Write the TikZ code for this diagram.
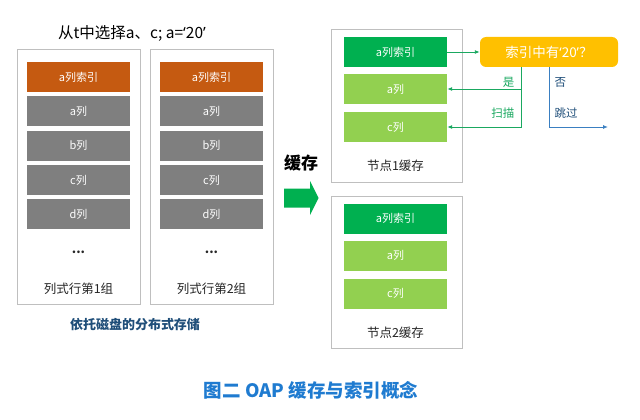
\documentclass[tikz,border=0pt]{standalone}
\usepackage{fontspec}
\setmainfont{Noto Sans CJK SC}
\newfontfamily\quotefont{Noto Sans}
\newcommand{\openq}{{\quotefont ‘}}
\newcommand{\closeq}{{\quotefont ’}}
\usepackage{xcolor}
\usepackage{tikz}
\usetikzlibrary{positioning, calc, arrows.meta}

\definecolor{panelgray}{HTML}{BFBFBF}
\definecolor{idxorange}{HTML}{C55A11}
\definecolor{colgray}{HTML}{7F7F7F}
\definecolor{idxgreen}{HTML}{00B050}
\definecolor{colgreen}{HTML}{92D050}
\definecolor{askyellow}{HTML}{FFC000}
\definecolor{yesgreen}{HTML}{1AA860}
\definecolor{noblue}{HTML}{3A7FC1}
\definecolor{diskblue}{HTML}{1F4E79}
\definecolor{capblue}{HTML}{1F7BD0}

\tikzset{
  panel/.style={draw=panelgray, line width=1pt, fill=white, inner sep=0pt},
  bar/.style={minimum width=103pt, minimum height=30pt, inner sep=0pt,
    text=white, font=\fontsize{11}{13}\selectfont},
  lbl/.style={font=\fontsize{12.5}{15}\selectfont, text=black!85},
  branchlbl/.style={font=\fontsize{11.5}{13}\selectfont},
  branch/.style={line width=0.9pt, -{Latex[length=5pt,width=4pt]}},
}

\begin{document}
\begin{tikzpicture}[x=1pt,y=-1pt]
        \useasboundingbox (0,0) rectangle (640,420);

        % Heading of the query
        \node[font=\fontsize{15.5}{18}\selectfont] (query) at (132,33) {从t中选择a、c; a=\openq20\closeq};

        % Two row groups on disk
        \foreach \gx/\gn in {78.5/1, 211.5/2} {
          \node[panel, minimum width=123pt, minimum height=254pt] (group\gn) at (\gx,177) {};
          \node[bar, fill=idxorange] (g\gn idx) at (\gx,77) {a列索引};
          \foreach \cy/\cn in {111.3/a, 145.6/b, 179.9/c, 214.2/d}
            \node[bar, fill=colgray] (g\gn\cn) at (\gx,\cy) {\cn 列};
          \node[lbl] (g\gn dots) at (\gx,252) {\textbf{...}};
          \node[lbl] (g\gn name) at (\gx,289) {列式行第\gn 组};
        }
        \node[font=\fontsize{13}{15}\selectfont\bfseries, text=diskblue] (disk) at (135,325) {依托磁盘的分布式存储};

        % Cache arrow
        \node[font=\fontsize{17}{20}\selectfont\bfseries] (cachelbl) at (301,163) {缓存};
        \fill[idxgreen] (284,188.5) -- (310,188.5) -- (310,181) -- (318.5,198) -- (310,215)
          -- (310,207.5) -- (284,207.5) -- cycle;

        % Node caches
        \foreach \ny/\nn in {106/1, 272.5/2} {
          \node[panel, minimum width=131pt, minimum height=152pt] (node\nn) at (396.5,\ny) {};
          \node[bar, fill=idxgreen] (n\nn idx) at (395.5,\ny-54) {a列索引};
          \node[bar, fill=colgreen] (n\nn a) at (395.5,\ny-17) {a列};
          \node[bar, fill=colgreen] (n\nn c) at (395.5,\ny+21) {c列};
          \node[lbl] (n\nn name) at (395.5,\ny+60) {节点\nn 缓存};
        }

        % Index check
        \node[fill=askyellow, rounded corners=6pt, minimum width=138pt, minimum height=30pt,
          text=white, font=\fontsize{13.5}{16}\selectfont] (ask) at (549,52) {索引中有\openq20\closeq ？};
        \draw[branch, yesgreen] (n1idx.east) -- (ask.west);

        % Yes: scan
        \coordinate (yesend) at (521,127);
        \draw[branch, yesgreen] (ask.south -| yesend) -- (yesend) -- (n1c.east);
        \draw[branch, yesgreen] (n1a.east -| yesend) -- (n1a.east);
        \node[branchlbl, text=yesgreen, anchor=east] (yeslbl) at (518,82) {是};
        \node[branchlbl, text=yesgreen, anchor=east] (scanlbl) at (518,113) {扫描};

        % No: skip
        \coordinate (nocorner) at (549,127);
        \coordinate (skipend) at (608,127);
        \draw[branch, noblue] (ask.south -| nocorner) -- (nocorner) -- (skipend);
        \node[branchlbl, text=diskblue, anchor=west] (nolbl) at (551,82) {否};
        \node[branchlbl, text=diskblue, anchor=west] (skiplbl) at (551,113) {跳过};

        % Caption
        \node[font=\fontsize{18.5}{22}\selectfont\bfseries, text=capblue] (caption) at (311,390) {图二 OAP 缓存与索引概念};

    \end{tikzpicture}
\end{document}
